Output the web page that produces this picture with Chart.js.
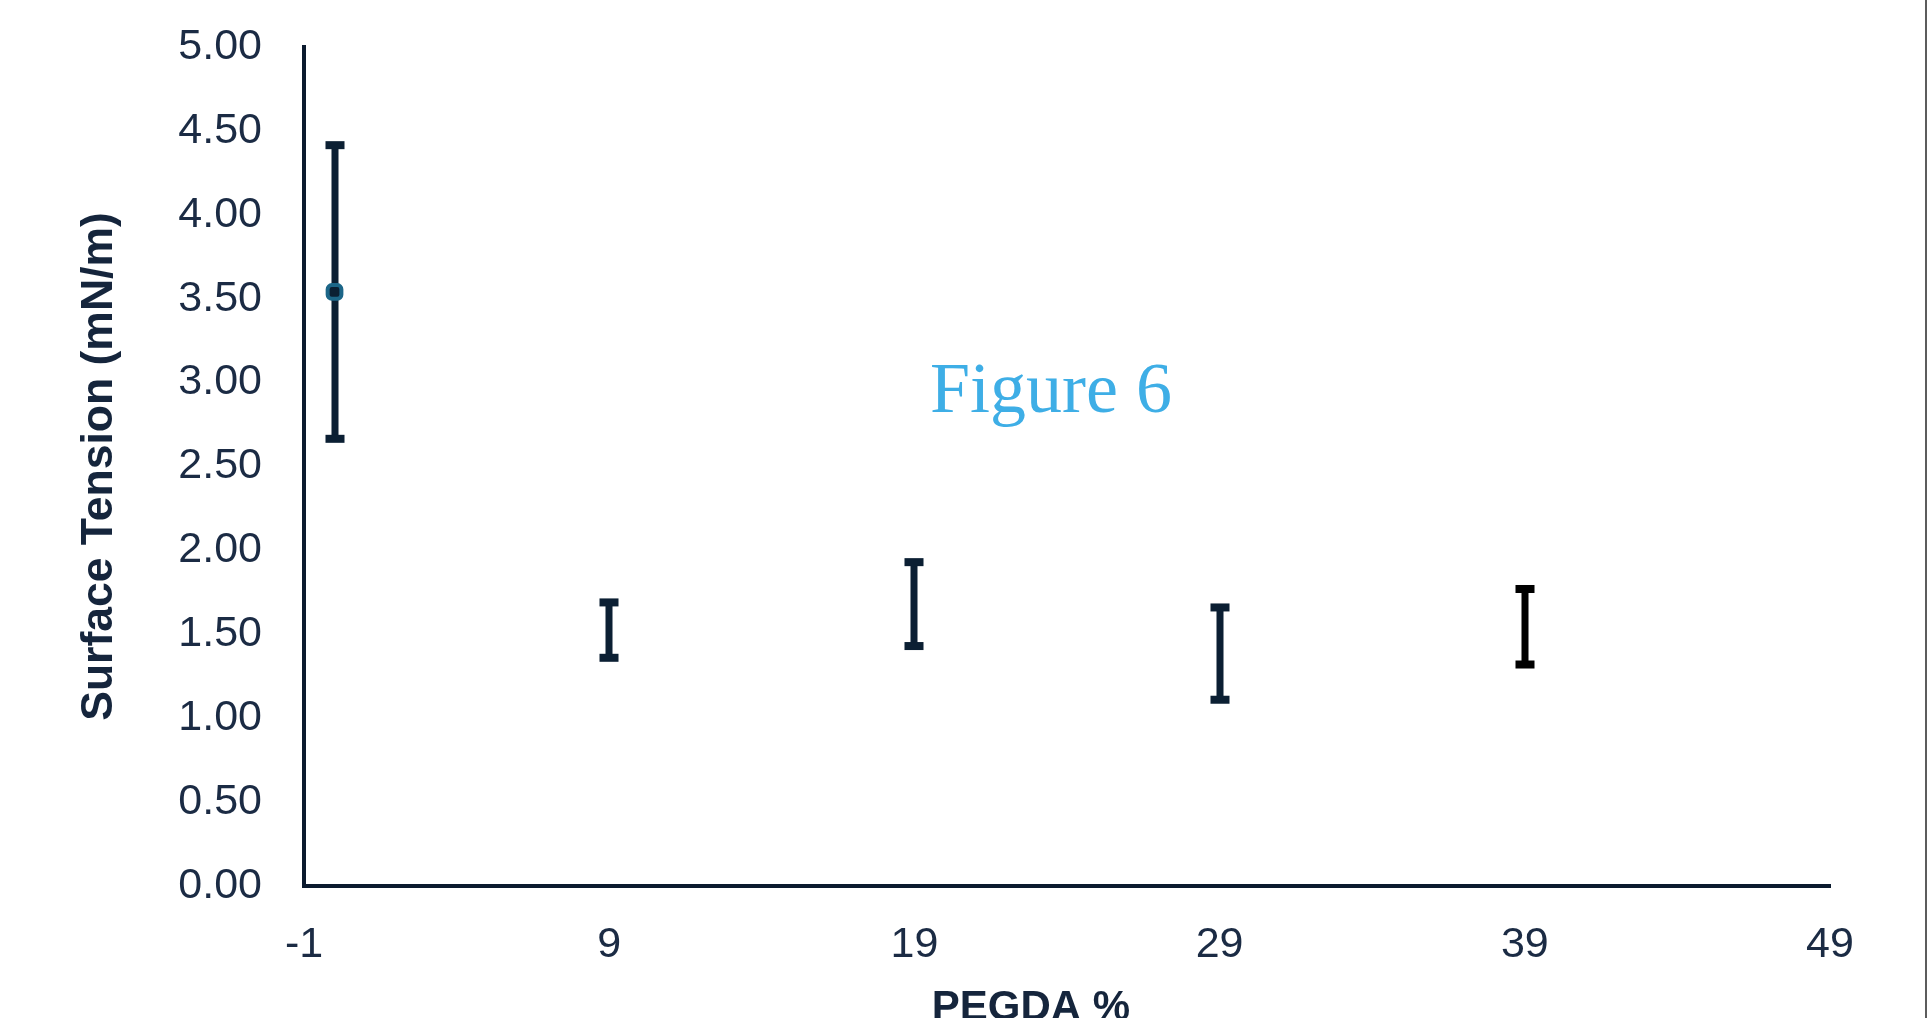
<!DOCTYPE html>
<html lang="en">
<head>
    <meta charset="UTF-8">
    <title>Surface Tension vs PEGDA %</title>
    <script src="https://cdn.jsdelivr.net/npm/chart.js@4.4.1/dist/chart.umd.min.js"></script>
<style>
    body{
        margin:0;
        background:#fff;
    }
    #board{
        position:relative;
        width:1928px;
        height:1018px;
    }
    #edge{
        position:absolute;
        left:1925px;
        top:0;
        width:2px;
        height:1018px;
        background:#5c5c5c;
    }
</style>
</head>
<body>
    <div id="board">
        <canvas id="chart1" width="1928" height="1018"></canvas>
        <div id="edge"></div>
    </div>

<script>
    // data
    const pegda = [0, 9, 19, 29, 39];
    const tension = [3.54, 1.525, 1.68, 1.385, 1.545];
    const errors = [0.875, 0.165, 0.25, 0.275, 0.225];
    const barColors = ['#0b1f33', '#0b1f33', '#0b1f33', '#0b1f33', '#000000'];
    const xTicks = [-1, 9, 19, 29, 39, 49];
    const yTicks = [0, 0.5, 1, 1.5, 2, 2.5, 3, 3.5, 4, 4.5, 5];

    const navy = '#1b2b44';

    // error bars drawn under the markers
    const errorBars = {
        id: 'errorBars',
        beforeDatasetsDraw(chart) {
            const ctx = chart.ctx;
            const x = chart.scales.x, y = chart.scales.y;
            ctx.save();
            pegda.forEach((p, i) => {
                const px = Math.round(x.getPixelForValue(p));
                const top = y.getPixelForValue(tension[i] + errors[i]);
                const bot = y.getPixelForValue(tension[i] - errors[i]);
                ctx.fillStyle = barColors[i];
                ctx.fillRect(px - 3.5, top, 7, bot - top);   // stem
                ctx.fillRect(px - 9.5, top - 4, 19, 8);      // caps
                ctx.fillRect(px - 9.5, bot - 4, 19, 8);
            });
            ctx.restore();
        }
    };

    // x title sits a bit left of centre, plus the figure label
    const extraText = {
        id: 'extraText',
        afterDraw(chart) {
            const ctx = chart.ctx;
            ctx.save();
            ctx.fillStyle = '#15253c';
            ctx.font = 'bold 42px "Liberation Sans", Arial, sans-serif';
            ctx.textAlign = 'center';
            ctx.textBaseline = 'alphabetic';
            ctx.fillText('PEGDA %', 1031, 1020);

            ctx.fillStyle = '#3eaee6';
            ctx.font = '72px "Liberation Serif", "Times New Roman", serif';
            ctx.textAlign = 'left';
            ctx.fillText('Figure 6', 930, 412);
            ctx.restore();
        }
    };

    const ctx = document.getElementById('chart1').getContext('2d');
    Chart.defaults.font.family = '"Liberation Sans", Arial, sans-serif';
    Chart.defaults.color = navy;

    new Chart(ctx, {
        type: 'scatter',
        data: {
            datasets: [{
                label: 'Surface Tension',
                data: pegda.map((p, i) => ({x: p, y: tension[i]})),
                pointStyle: 'rectRounded',
                pointRadius: [8, 0, 0, 0, 0],
                pointBorderWidth: 4,
                pointBorderColor: '#1c6688',
                pointBackgroundColor: '#0b1f33',
                showLine: false
            }]
        },
        options: {
            responsive: false,
            animation: false,
            layout: {
                padding: {left: 0, right: 98, top: 47, bottom: 0}
            },
            plugins: {
                legend: {display: false},
                tooltip: {enabled: false}
            },
            scales: {
                x: {
                    type: 'linear',
                    min: -1,
                    max: 49,
                    afterBuildTicks: s => { s.ticks = xTicks.map(v => ({value: v})); },
                    afterFit: s => { s.height = 132; s.paddingLeft = 0; s.paddingRight = 0; },
                    grid: {display: false, drawTicks: false},
                    border: {display: true, color: '#0b1a2e', width: 4},
                    ticks: {
                        padding: 33,
                        font: {size: 43},
                        color: navy
                    }
                },
                y: {
                    min: 0,
                    max: 5,
                    afterBuildTicks: s => { s.ticks = yTicks.map(v => ({value: v})); },
                    afterFit: s => { s.width = 304; s.paddingTop = 0; s.paddingBottom = 0; },
                    grid: {display: false, drawTicks: false},
                    border: {display: true, color: '#0b1a2e', width: 4},
                    ticks: {
                        padding: 42,
                        font: {size: 43},
                        color: navy,
                        callback: v => Number(v).toFixed(2)
                    },
                    title: {
                        display: true,
                        text: 'Surface Tension (mN/m)',
                        font: {size: 44.5, weight: 'bold'},
                        color: '#15253c',
                        padding: {top: 73, bottom: 0}
                    }
                }
            }
        },
        plugins: [errorBars, extraText]
    });
</script>
</body>
</html>
